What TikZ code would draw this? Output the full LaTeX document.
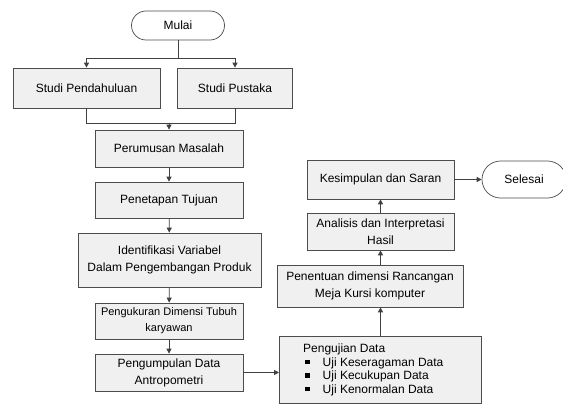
\documentclass[tikz,border=0pt]{standalone}
\usepackage{fontspec}
\setmainfont{Liberation Sans}
\usetikzlibrary{arrows.meta,shapes.misc}
\begin{document}
\begin{tikzpicture}[x=1pt,y=-1pt,
  box/.style={draw=black!70,fill=black!6,line width=0.7pt,align=center,inner sep=0pt,font=\fontsize{12}{17}\selectfont},
  pill/.style={draw=black!70,fill=white,line width=0.7pt,rounded rectangle,inner sep=0pt,font=\fontsize{12}{14}\selectfont},
  conn/.style={draw=black!75,line width=0.8pt},
  arr/.style={conn,-{Triangle[length=5pt,width=5pt]}}]
\useasboundingbox (0,0) rectangle (563,404);
\node[pill,minimum width=93pt,minimum height=29pt] (mulai) at (178,25.5) {Mulai};
\node[box,minimum width=147pt,minimum height=40pt] (sp) at (86.5,88) {Studi Pendahuluan};
\node[box,minimum width=115pt,minimum height=40pt] (pus) at (235,88) {Studi Pustaka};
\node[box,minimum width=148pt,minimum height=37pt] (rm) at (169,148.5) {Perumusan Masalah};
\node[box,minimum width=148pt,minimum height=36pt] (tj) at (169,200) {Penetapan Tujuan};
\node[box,minimum width=183pt,minimum height=54pt] (iv) at (169.5,260) {Identifikasi Variabel\\Dalam Pengembangan Produk};
\node[box,minimum width=148pt,minimum height=36pt,font=\fontsize{11}{16}\selectfont] (pk) at (169,321) {Pengukuran Dimensi Tubuh\\karyawan};
\node[box,minimum width=148pt,minimum height=37pt] (pd) at (169,372.5) {Pengumpulan Data\\Antropometri};
\node[box,minimum width=202pt,minimum height=67pt,anchor=north west] (uj) at (279,336) {};
\node[anchor=north west,inner sep=0pt,align=left,font=\fontsize{12}{14}\selectfont] (ujt) at (303,344) {Pengujian Data\\[-0.5pt]
\rule{0pt}{0pt}\hspace{2pt}\rule[2pt]{4.5pt}{4.5pt}\hspace{13pt}Uji Keseragaman Data\\[-0.5pt]
\rule{0pt}{0pt}\hspace{2pt}\rule[2pt]{4.5pt}{4.5pt}\hspace{13pt}Uji Kecukupan Data\\[-0.5pt]
\rule{0pt}{0pt}\hspace{2pt}\rule[2pt]{4.5pt}{4.5pt}\hspace{13pt}Uji Kenormalan Data};
\node[box,minimum width=186pt,minimum height=42pt] (mk) at (370,286) {Penentuan dimensi Rancangan\\Meja Kursi komputer};
\node[box,minimum width=147pt,minimum height=37pt] (an) at (380.5,231.5) {Analisis dan Interpretasi\\Hasil};
\node[box,minimum width=147pt,minimum height=39pt] (ks) at (380.5,179.5) {Kesimpulan dan Saran};
\node[pill,minimum width=84pt,minimum height=37pt] (sl) at (524,179.5) {Selesai};
\coordinate (j1) at (178,58);
\coordinate (j2) at (169,123);
\draw[conn] (mulai.south) -- (j1);
\draw[arr] (j1) -| (sp.north);
\draw[arr] (j1) -| (pus.north);
\draw[conn] (sp.south) |- (j2);
\draw[conn] (pus.south) |- (j2);
\draw[arr] (j2) -- (rm.north);
\draw[arr] (rm) -- (tj);
\draw[arr] (tj) -- (iv);
\draw[arr] (iv) -- (pk);
\draw[arr] (pk) -- (pd);
\draw[arr] (pd.east) -- (pd.east -| uj.west);
\draw[arr] (uj.north -| an.south) -- (an.south |- mk.south);
\draw[arr] (mk.north -| an.south) -- (an.south);
\draw[arr] (an) -- (ks);
\draw[arr] (ks) -- (sl);
\end{tikzpicture}
\end{document}
